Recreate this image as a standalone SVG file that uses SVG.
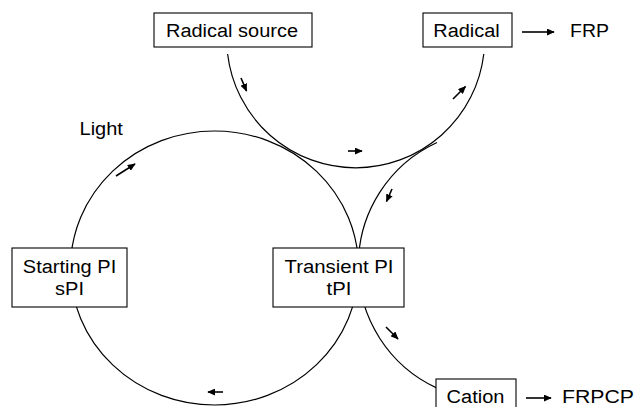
<svg xmlns="http://www.w3.org/2000/svg" width="639" height="407" viewBox="0 0 639 407">
<style>
.bg{fill:#fff}
.box{fill:#fff;stroke:#000;stroke-width:1.1}
.arc{fill:none;stroke:#000;stroke-width:1.2}
.arr{fill:none;stroke:#000;stroke-width:1.6;marker-end:url(#ah)}
.t{font-family:"Liberation Sans",Arial,sans-serif;font-size:18px;fill:#000}
.m{text-anchor:middle}
</style>
<defs>
<marker id="ah" viewBox="0 0 10 10" refX="9" refY="5" markerWidth="8" markerHeight="7" markerUnits="userSpaceOnUse" orient="auto" preserveAspectRatio="none"><path d="M0,0 L10,5 L0,10 z" fill="#000"/></marker>
</defs>
<rect class="bg" x="0" y="0" width="639" height="407"/>
<g id="connectors">
<ellipse class="arc" cx="214.5" cy="268" rx="144" ry="137"/>
<path class="arc" d="M227.6 54 A129 129 0 0 0 483.8 54"/>
<path class="arc" d="M437 142.5 A135.2 135.2 0 0 0 437 388.1"/>
<line class="arr" x1="241" y1="78" x2="246.5" y2="91"/>
<line class="arr" x1="453" y1="99" x2="465.5" y2="86.5"/>
<line class="arr" x1="348" y1="151" x2="362" y2="151"/>
<line class="arr" x1="392" y1="189" x2="386.5" y2="201.5"/>
<line class="arr" x1="116" y1="176" x2="135" y2="164"/>
<line class="arr" x1="223" y1="392" x2="208" y2="392"/>
<line class="arr" x1="386" y1="327" x2="398" y2="339"/>
<line class="arr" x1="522" y1="32" x2="554" y2="32"/>
<line class="arr" x1="526" y1="398" x2="551" y2="398"/>
</g>
<g id="radical-source">
<rect class="box" x="154" y="13" width="158" height="34"/>
<text class="t m" x="232" y="37" textLength="132" lengthAdjust="spacingAndGlyphs">Radical source</text>
</g>
<g id="radical">
<rect class="box" x="423" y="13" width="89" height="34"/>
<text class="t m" x="466.5" y="37" textLength="66.5" lengthAdjust="spacingAndGlyphs">Radical</text>
</g>
<g id="frp">
<text class="t" x="570" y="37" textLength="39" lengthAdjust="spacingAndGlyphs">FRP</text>
</g>
<g id="light">
<text class="t" x="79.5" y="135" textLength="43.4" lengthAdjust="spacingAndGlyphs">Light</text>
</g>
<g id="starting-pi">
<rect class="box" x="12" y="248" width="115" height="59"/>
<text class="t m" x="69.5" y="273" textLength="93.4" lengthAdjust="spacingAndGlyphs">Starting PI</text>
<text class="t m" x="69.5" y="295" textLength="28.9" lengthAdjust="spacingAndGlyphs">sPI</text>
</g>
<g id="transient-pi">
<rect class="box" x="273" y="248" width="131" height="59"/>
<text class="t m" x="339" y="273" textLength="109" lengthAdjust="spacingAndGlyphs">Transient PI</text>
<text class="t m" x="339" y="295" textLength="24.8" lengthAdjust="spacingAndGlyphs">tPI</text>
</g>
<g id="cation">
<rect class="box" x="436" y="379" width="80" height="32"/>
<text class="t m" x="475.5" y="403" textLength="57.8" lengthAdjust="spacingAndGlyphs">Cation</text>
</g>
<g id="frpcp">
<text class="t" x="562" y="403" textLength="72" lengthAdjust="spacingAndGlyphs">FRPCP</text>
</g>
</svg>
